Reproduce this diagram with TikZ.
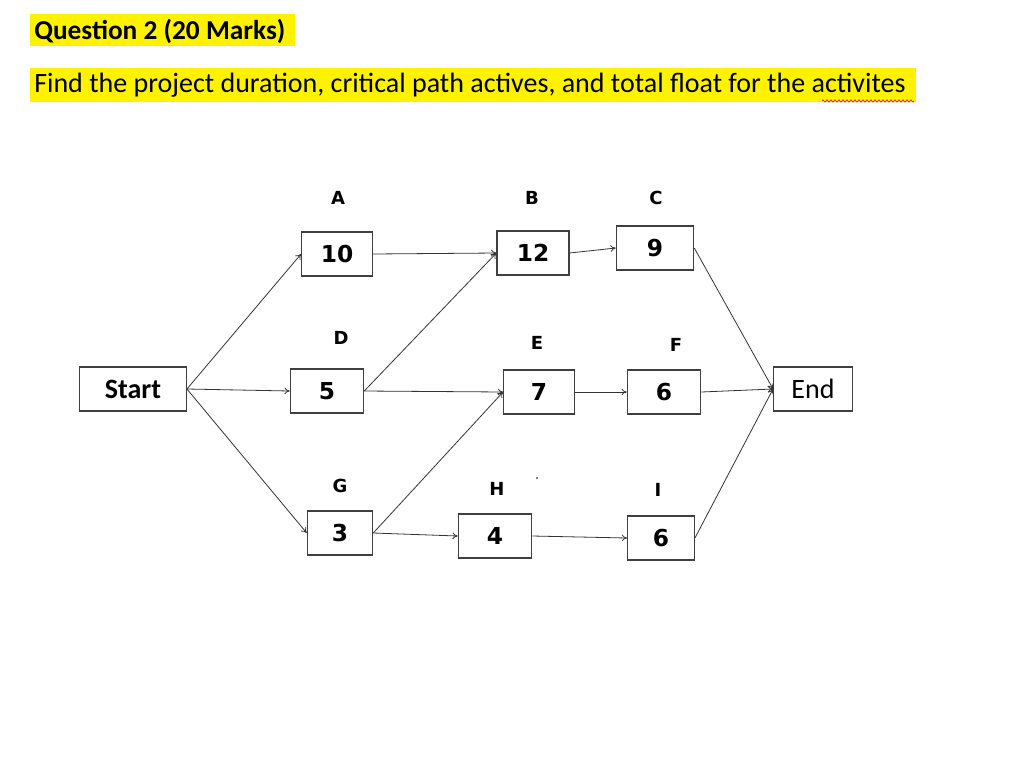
\documentclass[tikz,border=0pt]{standalone}
\usepackage{fontspec}
\setmainfont{Carlito}
\newfontfamily\vfont{DejaVu Sans}
\usetikzlibrary{arrows.meta,decorations.pathmorphing}
\begin{document}
\begin{tikzpicture}[x=0.75pt,y=-0.75pt,
 box/.style={draw=black!75,line width=0.9pt,minimum height=33pt,inner sep=0pt,font=\vfont\bfseries\fontsize{17.5}{19}\selectfont},
 lbl/.style={font=\vfont\bfseries\fontsize{13.5}{15}\selectfont},
 arr/.style={-{To[length=4pt,width=5pt]},black!80,line width=0.6pt}]
\useasboundingbox (0,0) rectangle (1024,775);
\fill[yellow] (30,14) rectangle (295,46);
\fill[yellow] (30,68) rectangle (916,102);
\node[anchor=west,inner sep=0pt,font=\bfseries\fontsize{20.5}{22}\selectfont] (q) at (34,31) {Question 2 (20 Marks)};
\node[anchor=west,inner sep=0pt,font=\fontsize{21}{22}\selectfont] (t) at (34,85) {Find the project duration, critical path actives, and total float for the activites};
\draw[red,line width=0.5pt,decoration={zigzag,segment length=3pt,amplitude=0.8pt},decorate] (822,101) -- (914,101);
\node[box,minimum width=80pt,font=\bfseries\fontsize{21}{22}\selectfont] (S) at (133,389) {Start};
\node[box,minimum width=53pt] (A) at (337,254) {10};
\node[box,minimum width=54pt] (B) at (533,253) {12};
\node[box,minimum width=58pt] (C) at (655,248) {9};
\node[box,minimum width=55pt] (D) at (327,391) {5};
\node[box,minimum width=53pt] (E) at (539,392) {7};
\node[box,minimum width=55pt] (F) at (664,392) {6};
\node[box,minimum width=59pt,font=\fontsize{21}{22}\selectfont] (End) at (813,389) {End};
\node[box,minimum width=49pt] (G) at (340,533) {3};
\node[box,minimum width=55pt] (H) at (495,536) {4};
\node[box,minimum width=50pt] (I) at (661,538) {6};
\node[lbl] (lA) at (338,198) {A};
\node[lbl] (lB) at (532,198) {B};
\node[lbl] (lC) at (656,198) {C};
\node[lbl] (lD) at (341,338) {D};
\node[lbl] (lE) at (537,343) {E};
\node[lbl] (lF) at (676,345) {F};
\node[lbl] (lG) at (340,486) {G};
\node[lbl] (lH) at (497,489) {H};
\node[lbl] (lI) at (658,490) {I};
\fill (537,478) circle (0.8);
\draw[arr] (S.east) -- (A.west);
\draw[arr] (S.east) -- (D.west);
\draw[arr] (S.east) -- (G.west);
\draw[arr] (A.east) -- (B.west);
\draw[arr] (D.east) -- (B.west);
\draw[arr] (D.east) -- (E.west);
\draw[arr] (G.east) -- (E.west);
\draw[arr] (G.east) -- (H.west);
\draw[arr] (B.east) -- (C.west);
\draw[arr] (E.east) -- (F.west);
\draw[arr] (H.east) -- (I.west);
\draw[arr] (C.east) -- (End.west);
\draw[arr] (F.east) -- (End.west);
\draw[arr] (I.east) -- (End.west);
\end{tikzpicture}
\end{document}
